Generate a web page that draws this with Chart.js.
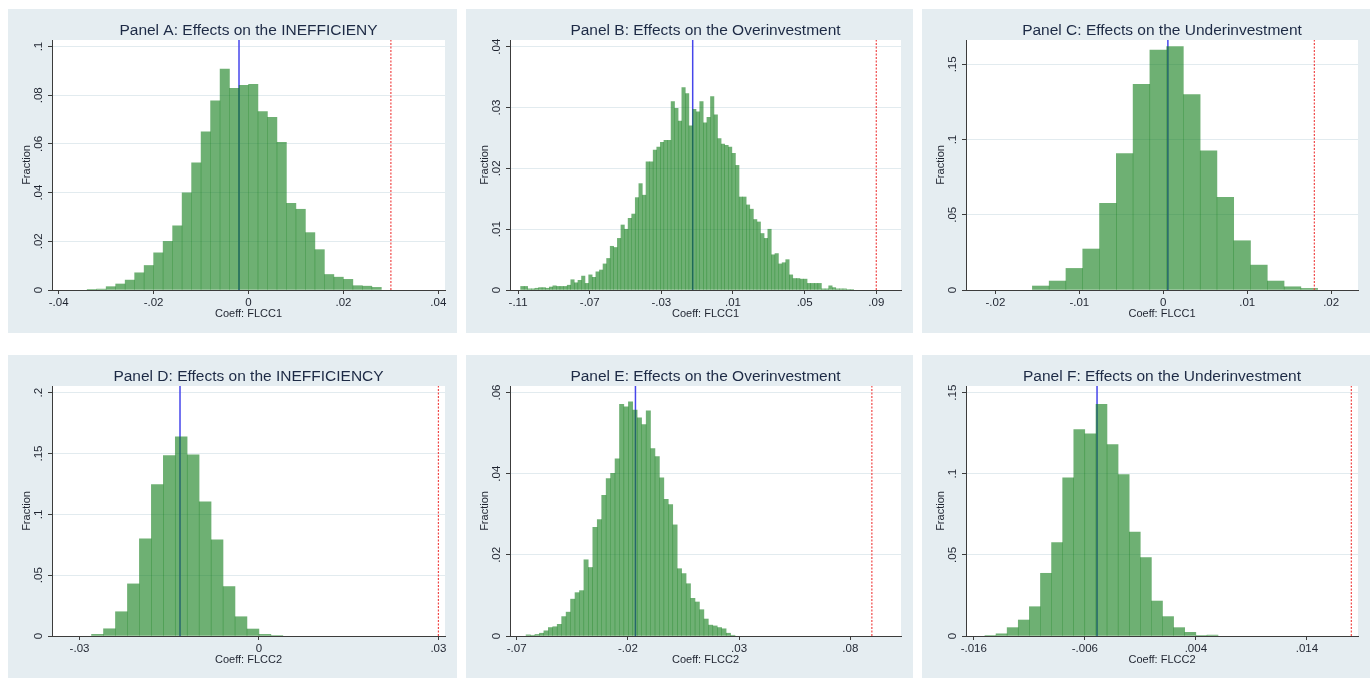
<!DOCTYPE html>
<html>
<head>
<meta charset="utf-8">
<title>Placebo coefficient histograms</title>
<script src="https://cdn.jsdelivr.net/npm/chart.js@4.4.1/dist/chart.umd.min.js"></script>
<style>
  body { margin: 0; background: #fff; width: 1371px; height: 678px; overflow: hidden; position: relative; }
  .panel { position: absolute; background: #e5edf1; }
  .panel canvas { display: block; }
</style>
</head>
<body>
<div class="panel" style="left:8px;top:9px;width:449px;height:324px"><canvas id="chartA" width="449" height="324"></canvas></div>
<div class="panel" style="left:466px;top:9px;width:447px;height:324px"><canvas id="chartB" width="447" height="324"></canvas></div>
<div class="panel" style="left:922px;top:9px;width:448px;height:324px"><canvas id="chartC" width="448" height="324"></canvas></div>
<div class="panel" style="left:8px;top:355px;width:449px;height:324px"><canvas id="chartD" width="449" height="324"></canvas></div>
<div class="panel" style="left:466px;top:355px;width:447px;height:324px"><canvas id="chartE" width="447" height="324"></canvas></div>
<div class="panel" style="left:922px;top:355px;width:448px;height:324px"><canvas id="chartF" width="448" height="324"></canvas></div>

<script>
// histogram data (fraction per bin)
// Panel A
const binStartA = -0.034, binWidthA = 0.002;
const fractionA = [0.0003, 0.0004, 0.0014, 0.0025, 0.0041, 0.0071, 0.0101, 0.0153, 0.0200, 0.0264,
  0.0400, 0.0523, 0.0650, 0.0777, 0.0908, 0.0829, 0.0841, 0.0845, 0.0733, 0.0710,
  0.0607, 0.0356, 0.0332, 0.0236, 0.0166, 0.0064, 0.0053, 0.0044, 0.0018, 0.0016, 0.0011];
const xTicksA = [-0.04, -0.02, 0, 0.02, 0.04];
const yTicksA = [0, 0.02, 0.04, 0.06, 0.08, 0.1];
const meanA = -0.002, actualA = 0.030;

// Panel B
const binStartB = -0.1086, binWidthB = 0.002;
const fractionB = [0.0006, 0.0006, 0.0002, 0.0002, 0.0003, 0.0004, 0.0004, 0.0003, 0.0005, 0.0007,
  0.0006, 0.0006, 0.0006, 0.0008, 0.0017, 0.0012, 0.0016, 0.0023, 0.0011, 0.0025,
  0.0021, 0.0030, 0.0033, 0.0043, 0.0052, 0.0072, 0.0070, 0.0085, 0.0107, 0.0100,
  0.0118, 0.0125, 0.0152, 0.0175, 0.0156, 0.0211, 0.0211, 0.0230, 0.0235, 0.0243,
  0.0246, 0.0246, 0.0310, 0.0299, 0.0278, 0.0333, 0.0323, 0.0270, 0.0297, 0.0293,
  0.0310, 0.0275, 0.0284, 0.0318, 0.0288, 0.0249, 0.0240, 0.0238, 0.0235, 0.0225,
  0.0205, 0.0153, 0.0153, 0.0140, 0.0133, 0.0116, 0.0112, 0.0093, 0.0085, 0.0100,
  0.0058, 0.0060, 0.0043, 0.0045, 0.0050, 0.0025, 0.0019, 0.0019, 0.0018, 0.0018,
  0.0011, 0.0011, 0.0011, 0.0011, 0.0002, 0.0002, 0.0007, 0.0004, 0.0002, 0.0002,
  0.0002, 0.0001, 0.0001];
const xTicksB = [-0.11, -0.07, -0.03, 0.01, 0.05, 0.09];
const yTicksB = [0, 0.01, 0.02, 0.03, 0.04];
const meanB = -0.0125, actualB = 0.090;

// Panel C
const binStartC = -0.0156, binWidthC = 0.002;
const fractionC = [0.0027, 0.0060, 0.0144, 0.0273, 0.0576, 0.0908, 0.1367, 0.1595, 0.1618, 0.1300,
  0.0926, 0.0616, 0.0328, 0.0166, 0.0060, 0.0022, 0.0011];
const xTicksC = [-0.02, -0.01, 0, 0.01, 0.02];
const yTicksC = [0, 0.05, 0.1, 0.15];
const meanC = 0.00055, actualC = 0.018;

// Panel D
const binStartD = -0.028, binWidthD = 0.002;
const fractionD = [0.0014, 0.0060, 0.0200, 0.0429, 0.0800, 0.1245, 0.1484, 0.1637, 0.1490, 0.1104,
  0.0791, 0.0407, 0.0159, 0.0058, 0.0014, 0.0005];
const xTicksD = [-0.03, 0, 0.03];
const yTicksD = [0, 0.05, 0.1, 0.15, 0.2];
const meanD = -0.0132, actualD = 0.030;

// Panel E
const binStartE = -0.0658, binWidthE = 0.002;
const fractionE = [0.0003, 0.0002, 0.0004, 0.0007, 0.0013, 0.0021, 0.0023, 0.0029, 0.0048, 0.0059,
  0.0091, 0.0107, 0.0112, 0.0188, 0.0169, 0.0268, 0.0287, 0.0347, 0.0388, 0.0401,
  0.0437, 0.0571, 0.0565, 0.0577, 0.0557, 0.0538, 0.0521, 0.0555, 0.0462, 0.0442,
  0.0390, 0.0337, 0.0324, 0.0274, 0.0166, 0.0154, 0.0129, 0.0093, 0.0084, 0.0065,
  0.0042, 0.0027, 0.0025, 0.0021, 0.0018, 0.0007, 0.0002];
const xTicksE = [-0.07, -0.02, 0.03, 0.08];
const yTicksE = [0, 0.02, 0.04, 0.06];
const meanE = -0.0166, actualE = 0.0897;

// Panel F
const binStartF = -0.015, binWidthF = 0.001;
const fractionF = [0.0004, 0.0014, 0.0052, 0.0099, 0.0181, 0.0387, 0.0577, 0.0975, 0.1273, 0.1247,
  0.1428, 0.1181, 0.0995, 0.0641, 0.0484, 0.0216, 0.0120, 0.0052, 0.0023, 0.0002, 0.0006];
const xTicksF = [-0.016, -0.006, 0.004, 0.014];
const yTicksF = [0, 0.05, 0.1, 0.15];
const meanF = -0.0049, actualF = 0.018;

const FONT = '"Liberation Sans", Arial, sans-serif';
const TXT = '#1f2430';
const AXIS = '#3c3c3c';
const GRID = '#e2ebef';

// stata style numbers: .02, -.04, 0
function fmt(v) {
  if (Math.abs(v) < 1e-12) return '0';
  return String(+v.toFixed(4)).replace(/^(-?)0\./, '$1.');
}

// white plot region
const plotBg = {
  id: 'plotBg',
  beforeDraw(chart) {
    const a = chart.chartArea;
    chart.ctx.save();
    chart.ctx.fillStyle = '#ffffff';
    chart.ctx.fillRect(a.left, a.top, a.right - a.left, a.bottom - a.top);
    chart.ctx.restore();
  }
};

function drawPanel(id, p) {
  const bars = p.frac.map((f, i) => ({ x: p.start + (i + 0.5) * p.width, y: f }));

  new Chart(document.getElementById(id), {
    type: 'bar',
    data: {
      datasets: [
        {
          type: 'line',
          data: [{ x: p.actual, y: 0 }, { x: p.actual, y: p.yMax }],
          borderColor: 'rgb(240,72,72)',
          borderWidth: 1.2,
          borderDash: [2, 1.5],
          pointRadius: 0,
          order: 0
        },
        {
          type: 'bar',
          data: bars,
          backgroundColor: 'rgba(13,123,22,0.6)',
          borderWidth: 0,
          inflateAmount: 0.25,
          barPercentage: 1,
          categoryPercentage: 1,
          order: 1
        },
        {
          type: 'line',
          data: [{ x: p.mean, y: 0 }, { x: p.mean, y: p.yMax }],
          borderColor: 'rgb(70,70,235)',
          borderWidth: 1.5,
          pointRadius: 0,
          order: 2
        }
      ]
    },
    options: {
      responsive: false,
      animation: false,
      events: [],
      layout: { padding: { left: 0, right: 12, top: 0, bottom: 0 } },
      plugins: {
        legend: { display: false },
        tooltip: { enabled: false },
        title: {
          display: true,
          text: p.title,
          fullSize: false,
          color: '#1d2a45',
          font: { family: FONT, size: 15.5, weight: 'normal', lineHeight: 1.2 },
          padding: { top: 12.1, bottom: 0.3 }
        }
      },
      scales: {
        x: {
          type: 'linear',
          offset: false,
          min: p.xMin,
          max: p.xMax,
          afterBuildTicks: s => { s.ticks = p.xTicks.map(v => ({ value: v })); },
          afterFit: s => { s.height = 43; },
          grid: { offset: false, drawOnChartArea: false, drawTicks: true, tickLength: 4, tickColor: AXIS, tickWidth: 1 },
          border: { display: true, color: AXIS, width: 1 },
          ticks: {
            callback: v => fmt(v),
            color: TXT,
            font: { family: FONT, size: 11.5, lineHeight: 1.2 },
            padding: 2.4,
            maxRotation: 0,
            autoSkip: false
          },
          title: {
            display: true,
            text: p.xTitle,
            color: TXT,
            font: { family: FONT, size: 11, lineHeight: 1.2 },
            padding: { top: 0, bottom: 12 }
          }
        },
        y: {
          min: 0,
          max: p.yMax,
          afterBuildTicks: s => { s.ticks = p.yTicks.map(v => ({ value: v })); },
          afterFit: s => { s.width = 44; },
          grid: { color: GRID, lineWidth: 1, drawTicks: true, tickLength: 4, tickColor: AXIS, tickWidth: 1 },
          border: { display: true, color: AXIS, width: 1 },
          ticks: {
            callback: v => fmt(v),
            color: TXT,
            font: { family: FONT, size: 11.5 },
            minRotation: 90,
            maxRotation: 90,
            crossAlign: 'center',
            padding: 0.7,
            autoSkip: false
          },
          title: {
            display: true,
            text: 'Fraction',
            color: TXT,
            font: { family: FONT, size: 11, lineHeight: 1.2 },
            padding: { top: 12.6, bottom: 0 }
          }
        }
      }
    },
    plugins: [plotBg]
  });
}

drawPanel('chartA', { title: 'Panel A: Effects on the INEFFICIENY', xTitle: 'Coeff: FLCC1',
  start: binStartA, width: binWidthA, frac: fractionA, xTicks: xTicksA, yTicks: yTicksA,
  mean: meanA, actual: actualA, xMin: -0.0414, xMax: 0.0414, yMax: 0.1027 });
drawPanel('chartB', { title: 'Panel B: Effects on the Overinvestment', xTitle: 'Coeff: FLCC1',
  start: binStartB, width: binWidthB, frac: fractionB, xTicks: xTicksB, yTicks: yTicksB,
  mean: meanB, actual: actualB, xMin: -0.1145, xMax: 0.1038, yMax: 0.0411 });
drawPanel('chartC', { title: 'Panel C: Effects on the Underinvestment', xTitle: 'Coeff: FLCC1',
  start: binStartC, width: binWidthC, frac: fractionC, xTicks: xTicksC, yTicks: yTicksC,
  mean: meanC, actual: actualC, xMin: -0.0235, xMax: 0.0232, yMax: 0.1662 });
drawPanel('chartD', { title: 'Panel D: Effects on the INEFFICIENCY', xTitle: 'Coeff: FLCC2',
  start: binStartD, width: binWidthD, frac: fractionD, xTicks: xTicksD, yTicks: yTicksD,
  mean: meanD, actual: actualD, xMin: -0.0346, xMax: 0.0311, yMax: 0.2055 });
drawPanel('chartE', { title: 'Panel E: Effects on the Overinvestment', xTitle: 'Coeff: FLCC2',
  start: binStartE, width: binWidthE, frac: fractionE, xTicks: xTicksE, yTicks: yTicksE,
  mean: meanE, actual: actualE, xMin: -0.073, xMax: 0.1028, yMax: 0.0616 });
drawPanel('chartF', { title: 'Panel F: Effects on the Underinvestment', xTitle: 'Coeff: FLCC2',
  start: binStartF, width: binWidthF, frac: fractionF, xTicks: xTicksF, yTicks: yTicksF,
  mean: meanF, actual: actualF, xMin: -0.0167, xMax: 0.0186, yMax: 0.1541 });
</script>
</body>
</html>
